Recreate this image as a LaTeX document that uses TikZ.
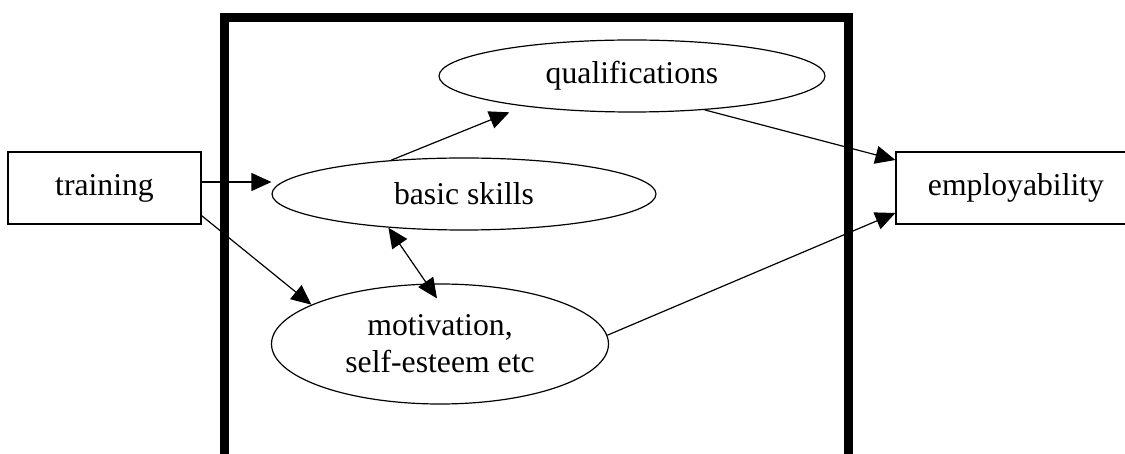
\documentclass[tikz,border=0pt]{standalone}
\usepackage{fontspec}
\setmainfont{Liberation Serif}
\usetikzlibrary{shapes.geometric,arrows.meta,positioning}

\begin{document}
\begin{tikzpicture}[
    x=0.5pt,
    y=-0.5pt,
    font=\fontsize{15.85}{18.5}\selectfont,
    factor/.style={
      draw, line width=0.6pt, inner sep=0pt,
      minimum width=96.5pt, minimum height=36pt
    },
    outcome/.style={ellipse, draw, line width=0.6pt, inner sep=0pt, align=center},
    arrow/.style={-{Triangle[length=10pt,width=9pt]}, line width=0.6pt},
    biarrow/.style={{Triangle[length=10pt,width=9pt]}-{Triangle[length=10pt,width=9pt]},
      line width=0.6pt}
  ]
  \useasboundingbox (0,0) rectangle (1125,454);

  % heavy frame round the intermediate outcomes, open at the bottom
  \draw[line width=4.5pt] (224.5,454) -- (224.5,17.5) -- (848,17.5) -- (848,454);

  \node[factor] (training) at (104.5,188) {training};
  \node[factor, minimum width=120pt] (employ) at (1016,188) {employability};

  \node[outcome, minimum width=193pt, minimum height=36pt] (qual) at (632,76)
    {qualifications};
  \node[outcome, minimum width=192pt, minimum height=36pt] (basic) at (464,194)
    {basic skills};
  \node[outcome, minimum width=168.5pt, minimum height=60pt] (motiv) at (440,344)
    {motivation,\\self-esteem etc};

  \draw[arrow] ([yshift=3pt]training.east) -- ([yshift=3pt]training.east -| basic.west);
  \draw[arrow] ([yshift=4.5pt]training.south east) -- (motiv.163);
  \draw[arrow] (basic.155) -- ([yshift=-4pt]qual.193);
  \draw[arrow] (qual.-25) -- ([yshift=14pt]employ.west);
  \draw[arrow] (motiv.3) -- ([yshift=-12.5pt]employ.west);
  \draw[biarrow] (basic.204) -- ([shift={(-1.5pt,-7.5pt)}]motiv.north);
\end{tikzpicture}
\end{document}
